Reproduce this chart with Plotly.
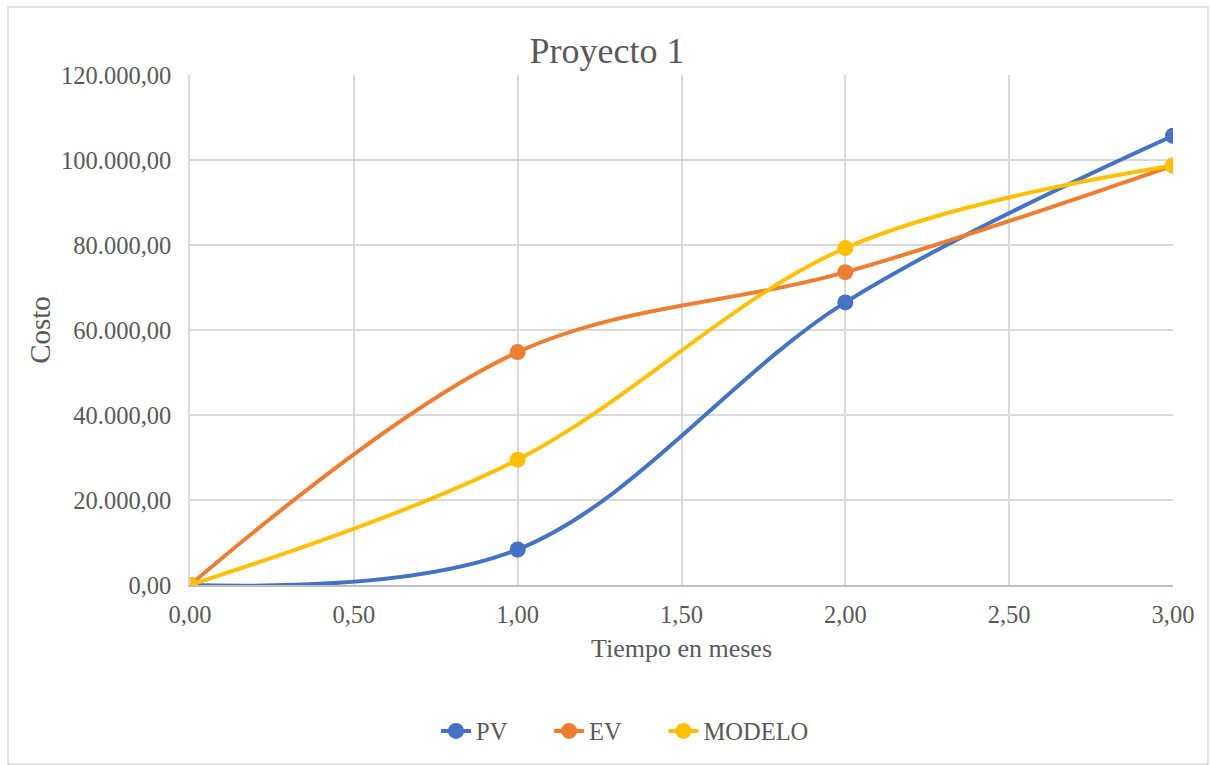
import plotly.graph_objects as go

# Time in months and cost values for each series
meses = [0.0, 1.0, 2.0, 3.0]
pv = [0, 8350, 66500, 105700]
ev = [0, 54800, 73600, 98700]
modelo = [0, 29500, 79300, 98700]

series = [
    ("PV", pv, "#4472C4"),
    ("EV", ev, "#ED7D31"),
    ("MODELO", modelo, "#FFC000"),
]

W, H = 1210, 765
L, R, T, B = 190, 37, 75, 180
font_family = "Liberation Serif, Times New Roman, serif"
text_color = "#595959"
PAD = "\u00a0" * 6  # extra spacing between legend entries

fig = go.Figure()
for i, (name, vals, color) in enumerate(series):
    label = name + (PAD if i < len(series) - 1 else "")
    fig.add_trace(go.Scatter(
        x=meses, y=vals, name=label, mode="lines+markers",
        line=dict(color=color, width=4, shape="spline", smoothing=1.0),
        marker=dict(color=color, size=16),
    ))

# outer chart border, expressed in paper coordinates
pw, ph = W - L - R, H - T - B
def px_to_paper_x(px):
    return (px - L) / pw
def px_to_paper_y(py):
    return (H - B - py) / ph

fig.add_shape(
    type="rect", xref="paper", yref="paper",
    x0=px_to_paper_x(8), x1=px_to_paper_x(1208),
    y0=px_to_paper_y(764), y1=px_to_paper_y(7),
    line=dict(color="#D9D9D9", width=1.5), layer="below",
)

fig.update_layout(
    width=W, height=H,
    margin=dict(l=L, r=R, t=T, b=B),
    paper_bgcolor="white", plot_bgcolor="white",
    separators=",.",
    font=dict(family=font_family, color=text_color, size=24.5),
    title=dict(text="Proyecto 1", x=px_to_paper_x(607), xref="paper", xanchor="center",
               y=1 - 50 / H, yanchor="middle",
               font=dict(size=36, color=text_color, family=font_family)),
    showlegend=True,
    legend=dict(orientation="h", x=px_to_paper_x(625), xanchor="center",
                y=px_to_paper_y(731), yanchor="middle",
                font=dict(size=24.5, color=text_color, family=font_family),
                itemwidth=30, traceorder="normal"),
    xaxis=dict(
        range=[0, 3], tick0=0, dtick=0.5, tickformat=",.2f",
        showgrid=True, gridcolor="#D9D9D9", gridwidth=1.5,
        showline=True, linecolor="#BFBFBF", linewidth=1.5, mirror=False,
        zeroline=False, ticks="", ticklabelstandoff=7,
        title=dict(text="Tiempo en meses", standoff=12,
                   font=dict(size=26, color=text_color, family=font_family)),
    ),
    yaxis=dict(
        range=[0, 120000], tick0=0, dtick=20000, tickformat=",.2f",
        showgrid=True, gridcolor="#D9D9D9", gridwidth=1.5,
        showline=True, linecolor="#D9D9D9", linewidth=1.5,
        zeroline=False, ticks="", ticklabelstandoff=12,
        title=dict(text="Costo", standoff=2,
                   font=dict(size=29, color=text_color, family=font_family)),
    ),
)

fig.write_html("out.html")
